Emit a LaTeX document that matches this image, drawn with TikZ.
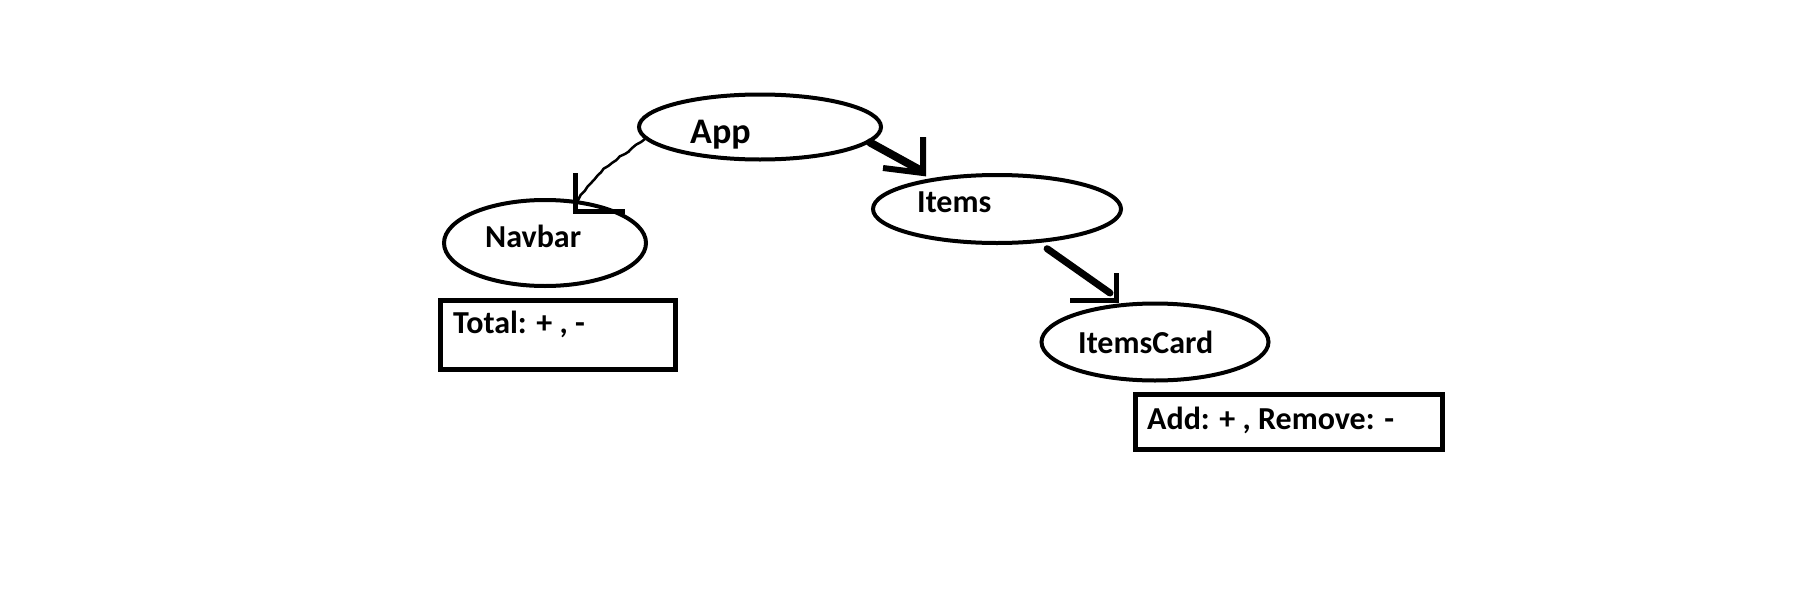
\documentclass[tikz,border=0pt]{standalone}
\usepackage{fontspec}
\setmainfont{Carlito}
\usetikzlibrary{shapes.geometric,decorations.pathmorphing}
\begin{document}
\begin{tikzpicture}[x=1pt,y=-1pt,
  comp/.style={ellipse, draw, line width=4pt, inner sep=0pt},
  box/.style={rectangle, draw, line width=5pt, inner sep=0pt},
  lbl/.style={font=\fontsize{32}{36}\selectfont\bfseries, inner sep=0pt, anchor=base west},
  head/.style={line width=5pt, line cap=butt, line join=miter},
  shaft/.style={line cap=round}]
\useasboundingbox[fill=white] (0,0) rectangle (1801,589);
\pgfmathsetseed{7}
% components
\node[comp, minimum width=242pt, minimum height=65pt] (app) at (760,127) {};
\node[comp, minimum width=202pt, minimum height=86pt] (navbar) at (545,243) {};
\node[comp, minimum width=248pt, minimum height=68pt] (items) at (997,209) {};
\node[comp, minimum width=227pt, minimum height=77pt] (card) at (1155,342) {};
\node[box, minimum width=235pt, minimum height=69pt] (total) at (558,335) {};
\node[box, minimum width=307pt, minimum height=55pt] (addbox) at (1289,422) {};
% texts
\node[lbl, font=\fontsize{36}{40}\selectfont\bfseries] (apptxt) at (690,143) {App};
\node[lbl] (navtxt) at (485,247) {Navbar};
\node[lbl] (itemstxt) at (917,212) {Items};
\node[lbl] (cardtxt) at (1078,353) {ItemsCard};
\node[lbl] (totaltxt) at (453,333) {Total: + , -};
\node[lbl] (addtxt) at (1147,429) {Add: + , Remove: -};
% arrow tips
\coordinate (navtip) at (575,211);
\coordinate (itemstip) at (923,173);
\coordinate (cardtip) at (1116,300);
\coordinate (navend) at (577,203);
\coordinate (itemsend) at (920,170);
\coordinate (cardend) at (1110,293);
% App -> Navbar
\draw[shaft, line width=2.5pt, decorate, decoration={random steps, segment length=5pt, amplitude=1pt}]
  (app.186) .. controls (615,160) and (588,178) .. (navend);
\draw[head] (navtip) ++(0,-38) -- (navtip) -- ++(50,0);
% App -> Items
\draw[shaft, line width=8pt] (app.-8) -- (itemsend);
\draw[head, line width=6pt] (itemstip) ++(0,-36) -- (itemstip) -- ++(-40,-5);
% Items -> ItemsCard
\draw[shaft, line width=7pt, shorten <=10pt] (items.-39) -- (cardend);
\draw[head] (cardtip) ++(0,-27) -- (cardtip) -- ++(-46,0);
\end{tikzpicture}
\end{document}
